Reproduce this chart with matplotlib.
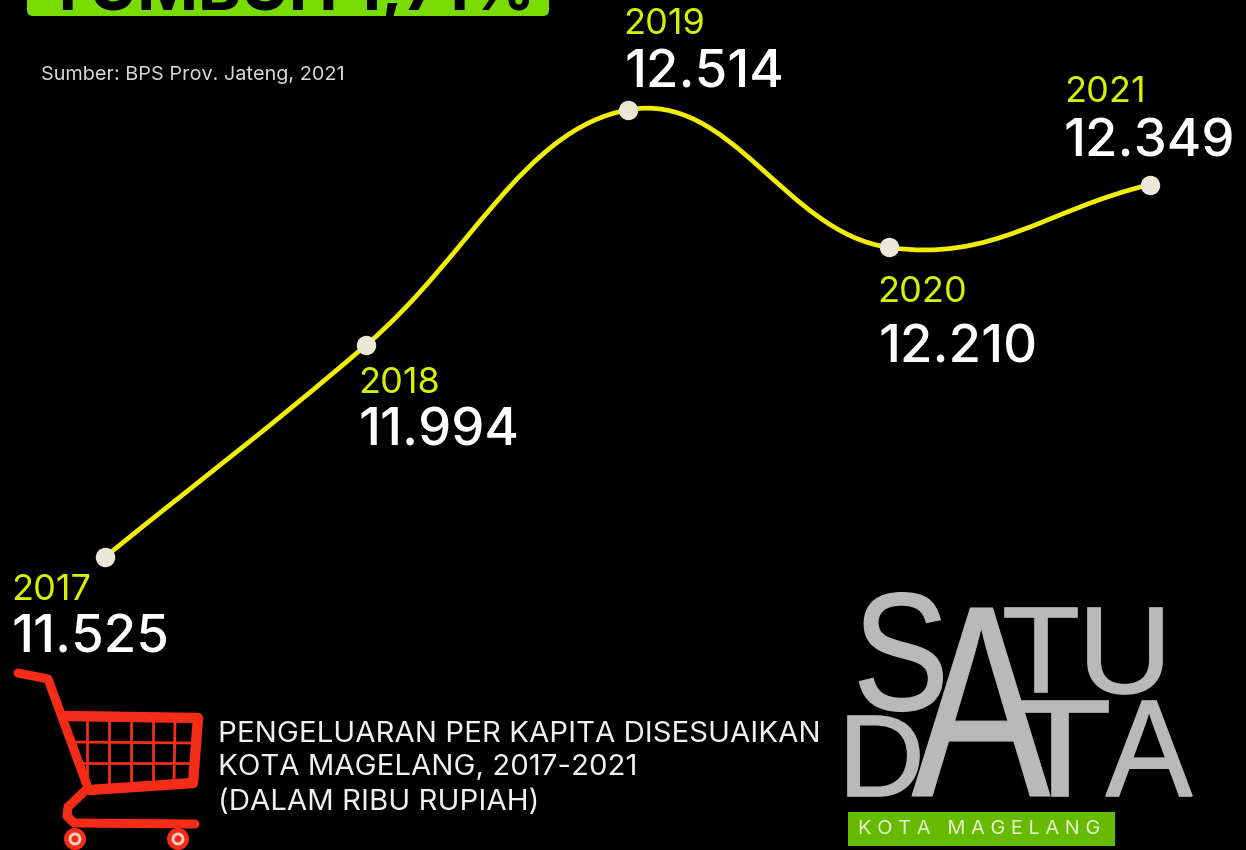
import numpy as np
import matplotlib
matplotlib.use("Agg")
import matplotlib.pyplot as plt
from matplotlib.path import Path
from matplotlib.patches import PathPatch, FancyBboxPatch, Circle, Rectangle
from matplotlib.patheffects import AbstractPathEffect
from matplotlib.textpath import TextPath
from matplotlib.font_manager import FontProperties
from matplotlib.transforms import Affine2D

years = [2017, 2018, 2019, 2020, 2021]
values = [11525, 11994, 12514, 12210, 12349]
value_labels = ["11.525", "11.994", "12.514", "12.210", "12.349"]
title_text = "TUMBUH 1,71%"
source_text = "Sumber: BPS Prov. Jateng, 2021"
caption_lines = ["PENGELUARAN PER KAPITA DISESUAIKAN", "KOTA MAGELANG, 2017-2021", "(DALAM RIBU RUPIAH)"]

W, H = 1246, 850
YEL, WHITE, LIME = "#d6f000", "#ffffff", "#78dc00"
FONT = "Inter"
fig = plt.figure(figsize=(W/100, H/100), dpi=100, facecolor="black")

# data axes: the scale maps 2017 -> x 105 px, 2021 -> x 1150 px; 1 unit = 0.452 px
ax = fig.add_axes([0, 0, 1, 1], facecolor="none")
pxyr = (1150-105)/4
pxv = 0.452
ax.set_xlim(2017-105/pxyr, 2017+(W-105)/pxyr)
ax.set_ylim(11525-(H-557)/pxv, 11525+557/pxv)
ax.axis("off")

# pixel overlay for decoration
px = fig.add_axes([0, 0, 1, 1], facecolor="none", zorder=-1)
px.set_xlim(0, W); px.set_ylim(H, 0); px.axis("off")

# smooth line (Catmull-Rom handles computed from the data)
x = np.array(years, float); y = np.array(values, float)
t = np.gradient(y, x)
verts = [(x[0], y[0])]; codes = [Path.MOVETO]
S = 0.40
for i in range(len(x)-1):
    d = x[i+1]-x[i]
    verts += [(x[i]+S*d, y[i]+S*d*t[i]), (x[i+1]-S*d, y[i+1]-S*d*t[i+1]), (x[i+1], y[i+1])]
    codes += [Path.CURVE4]*3
ax.add_patch(PathPatch(Path(verts, codes), fc="none", ec="#f2ee00", lw=3.4, capstyle="round"))
ax.plot(years, values, "o", ms=14, mfc="#ebe8da", mec="none", zorder=3)

year_off = [(-94, -33), (-8, -38), (-4, 85), (-11, -45), (-86, 92)]
val_off = [(-94, -82), (-8, -87), (-3, 36), (-10, -102), (-86, 42)]
for xx, yy, yl, vl, o1, o2 in zip(years, values, years, value_labels, year_off, val_off):
    ax.annotate(str(yl), (xx, yy), xytext=o1, textcoords="offset pixels", color=YEL, fontsize=26,
                family=FONT, va="center", ha="left")
    ax.annotate(vl, (xx, yy), xytext=o2, textcoords="offset pixels", color=WHITE, fontsize=38,
                family=FONT, va="center", ha="left", weight="medium")

# title strip
px.add_patch(FancyBboxPatch((27, -30), 522, 46, boxstyle="round,pad=0,rounding_size=6", fc=LIME, ec="none"))
px.text(46, 10, title_text, fontsize=47, weight="bold", family=FONT, color="black", va="baseline", ha="left",
        clip_on=True)
px.text(41, 75, source_text, fontsize=14.3, color="#d8d8d8", family=FONT, va="center", ha="left")

# caption
for ln, yy in zip(caption_lines, [734, 768, 803]):
    px.text(218, yy, ln, fontsize=21.2, color="#f0f0f0", family=FONT, va="center", ha="left")

# cart
R = "#f42c18"
def pl(pts, lw, c=R):
    a = np.array(pts, float)
    px.plot(a[:, 0], a[:, 1], color=c, lw=lw, solid_capstyle="round", solid_joinstyle="round")
pl([(18, 673), (48, 679), (88, 788)], 6.5)
pl([(65, 716), (198, 718), (193, 783), (90, 790)], 7.5)
pl([(88, 788), (68, 807), (67, 816), (74, 823), (195, 824)], 6.5)
for xx0, xx1 in [(87, 87), (109, 109), (131, 131), (153, 153), (175, 174)]:
    pl([(xx0, 720), (xx1, 785)], 2)
pl([(70, 742), (194, 743)], 2)
pl([(77, 763), (192, 763)], 2)
for cx in [75, 178]:
    px.add_patch(Circle((cx, 839), 11, fc=R, ec="none"))
    px.add_patch(Circle((cx, 839), 5, fc="none", ec="#ffd5c8", lw=2))

# logo: real text squeezed into the shape of each letter
G = "#b9b9b9"
class Squeeze(AbstractPathEffect):
    def __init__(self, sx, ax_px, ay_px, bold):
        super().__init__()
        self.sx, self.a, self.b, self.bold = sx, ax_px, ay_px, bold
    def draw_path(self, renderer, gc, tpath, affine, rgbFace=None):
        tr = affine + Affine2D().translate(-self.a, -self.b).scale(self.sx, 1).translate(self.a, self.b)
        g = renderer.new_gc(); g.copy_properties(gc)
        g.set_linewidth(self.bold); g.set_foreground(rgbFace); g.set_joinstyle("miter")
        renderer.draw_path(g, tpath, tr, rgbFace)
        g.restore()

fp = FontProperties(family="Liberation Sans")
def letter(ch, x0, x1, y0, y1, bold=1.0):
    e = TextPath((0, 0), ch, size=100, prop=fp).get_extents()
    em = (y1-y0)/e.height*100
    sx = (x1-x0)/(e.width*em/100)
    base = y1 + e.y0*em/100
    xp = x0 - e.x0*em/100*sx
    tx = px.text(xp, base, ch, fontsize=em*0.72, color=G, family="Liberation Sans",
                 va="baseline", ha="left", zorder=3)
    tx.set_path_effects([Squeeze(sx, xp, H-base, bold)])
letter("S", 860, 942, 593, 711, 1.5)
letter("A", 912, 1050, 608, 796, 0.8)
letter("T", 1005, 1077, 608, 692, 1.2)
letter("U", 1088, 1162, 608, 694, 1.2)
letter("D", 848, 919, 716, 796, 1.2)
letter("T", 1012, 1108, 701, 796, 1.2)
letter("A", 1106, 1192, 701, 796, 1.2)
px.add_patch(Rectangle((848, 812), 267, 34, fc="#66bb00", ec="none"))
px.text(858, 829, "K O T A   M A G E L A N G", fontsize=14.4, color="#e6f5d0", family=FONT, va="center", ha="left")

fig.savefig("out.png", dpi=100, facecolor="black")
